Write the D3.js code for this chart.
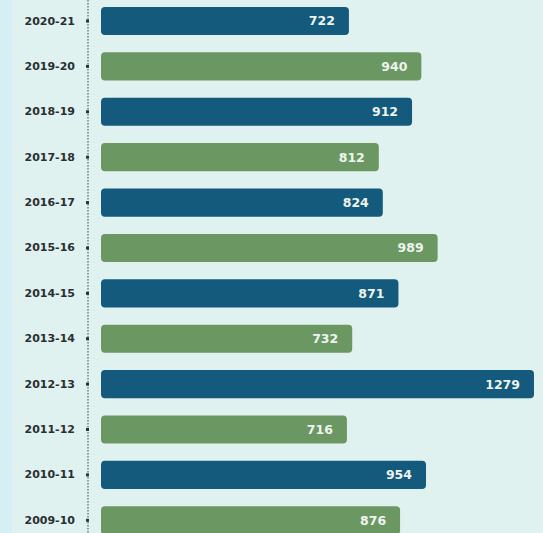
<!DOCTYPE html>
<html>
<head>
<meta charset="utf-8">
<script src="https://cdn.jsdelivr.net/npm/d3@7"></script>
<style>
  html, body { margin: 0; padding: 0; background: #dff2f0; }
  svg { display: block; }
</style>
</head>
<body>
<svg id="chart" width="543" height="533"></svg>
<script>
// Annual counts by financial year, newest first
const years = ["2020-21", "2019-20", "2018-19", "2017-18", "2016-17", "2015-16",
               "2014-15", "2013-14", "2012-13", "2011-12", "2010-11", "2009-10"];
const counts = [722, 940, 912, 812, 824, 989, 871, 732, 1279, 716, 954, 876];
const seriesKind = ["blue", "green", "blue", "green", "blue", "green",
                    "blue", "green", "blue", "green", "blue", "green"];

const W = 543, H = 533;
const colors = { blue: "#135a7d", green: "#6b9862" };
const font = "'DejaVu Sans', Verdana, sans-serif";

const svg = d3.select("#chart");

// Slightly bluer strip along the left edge
svg.append("rect").attr("x", 0).attr("y", 0).attr("width", 12).attr("height", H)
  .attr("fill", "#d6eff4");

// Bars begin a little left of the zero point, with a rounded lead-in
const barStart = 101, lead = 8;
const x = d3.scaleLinear().domain([0, 1279]).range([0, 425]);
const y = d3.scaleBand().domain(years).range([-1.7, 543]).paddingInner(0.38).paddingOuter(0.19);

// Dotted axis line
svg.append("line")
  .attr("x1", 88).attr("x2", 88).attr("y1", 0).attr("y2", H)
  .attr("stroke", "#3a4a50").attr("stroke-width", 1.2)
  .attr("stroke-dasharray", "1.5,1.5").attr("opacity", 0.85);

const axis = d3.axisLeft(y).tickSize(3).tickPadding(11);
const gAxis = svg.append("g").attr("transform", "translate(89,0)").call(axis);
gAxis.select(".domain").remove();
gAxis.selectAll(".tick line").attr("stroke", "#2a3438").attr("stroke-width", 3);
gAxis.selectAll(".tick text")
  .attr("fill", "#2a2f33")
  .style("font-family", font)
  .style("font-size", "11px")
  .style("font-weight", "bold");

const rows = years.map((yr, i) => ({ yr, v: counts[i], kind: seriesKind[i] }));

svg.append("g").selectAll("rect")
  .data(rows)
  .join("rect")
  .attr("x", barStart)
  .attr("y", d => y(d.yr))
  .attr("width", d => lead + x(d.v))
  .attr("height", y.bandwidth())
  .attr("rx", 4)
  .attr("fill", d => colors[d.kind]);

svg.append("g").selectAll("text")
  .data(rows)
  .join("text")
  .attr("x", d => barStart + lead + x(d.v) - 14)
  .attr("y", d => y(d.yr) + y.bandwidth() / 2)
  .attr("dy", "0.36em")
  .attr("text-anchor", "end")
  .attr("fill", "#eef4ee")
  .style("font-family", font)
  .style("font-size", "12.5px")
  .style("font-weight", "bold")
  .text(d => d.v);
</script>
</body>
</html>
